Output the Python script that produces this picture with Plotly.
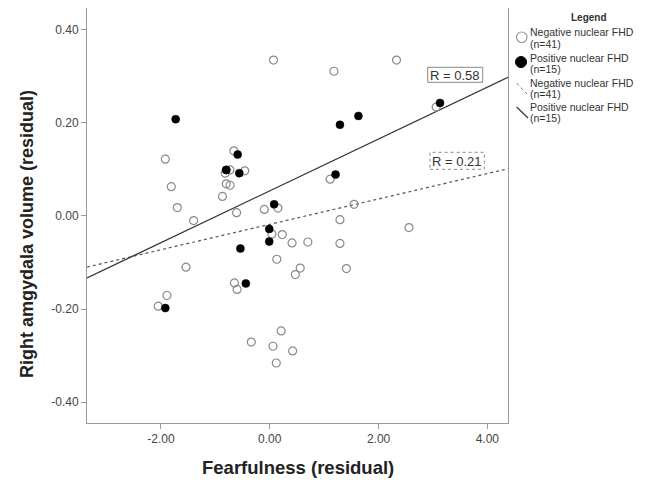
import plotly.graph_objects as go

# Negative nuclear FHD (n=41), open circles
neg_x = [0.07, -0.66, -1.92, -0.73, -0.82, -0.46, -0.80, -0.73, -1.81, -0.87,
         -1.70, 0.15, -0.10, -0.61, -1.40, 0.04, 0.23, 0.41, 0.70, 0.13,
         -1.54, 0.56, 0.47, -0.65, -0.60, -1.89, -2.05, 0.21, -0.34, 0.06,
         0.42, 0.12, 1.18, 2.33, 3.06, 1.11, 1.55, 1.29, 2.56, 1.29, 1.41]
neg_y = [0.335, 0.140, 0.122, 0.099, 0.092, 0.097, 0.069, 0.066, 0.063, 0.042,
         0.018, 0.017, 0.014, 0.007, -0.010, -0.039, -0.040, -0.058, -0.056, -0.093,
         -0.110, -0.112, -0.126, -0.144, -0.158, -0.171, -0.194, -0.247, -0.271, -0.280,
         -0.290, -0.316, 0.311, 0.335, 0.234, 0.079, 0.025, -0.008, -0.025, -0.059, -0.113]

# Positive nuclear FHD (n=15), filled circles
pos_x = [-1.73, -0.59, -0.80, -0.56, 0.08, -0.01, -0.01, -0.54, -0.44, -1.92,
         1.29, 1.63, 3.13, 1.21, -0.80]
pos_y = [0.208, 0.132, 0.099, 0.092, 0.025, -0.028, -0.055, -0.070, -0.145, -0.198,
         0.196, 0.215, 0.243, 0.089, 0.099]

# Fit lines (slope, intercept)
neg_fit = (0.0273, -0.018)
pos_fit = (0.0557, 0.054)
r_labels = ["R = 0.58", "R = 0.21"]

x_range = [-3.36, 4.38]
y_range = [-0.445, 0.447]
x_ticks = [-2, 0, 2, 4]
x_ticklabels = ["-2.00", "0.00", "2.00", "4.00"]
y_ticks = [-0.4, -0.2, 0, 0.2, 0.4]
y_ticklabels = ["-0.40", "-0.20", "0.00", "0.20", "0.40"]

legend_labels = [("Negative nuclear FHD", "(n=41)"), ("Positive nuclear FHD", "(n=15)"),
                 ("Negative nuclear FHD", "(n=41)"), ("Positive nuclear FHD", "(n=15)")]

FONT = "Liberation Sans, Arial, sans-serif"

fig = go.Figure()

fx = x_range
fig.add_trace(go.Scatter(x=fx, y=[neg_fit[0] * v + neg_fit[1] for v in fx], mode="lines",
                         line=dict(color="#555555", width=1.2, dash="dot"), showlegend=False,
                         hoverinfo="skip"))
fig.add_trace(go.Scatter(x=fx, y=[pos_fit[0] * v + pos_fit[1] for v in fx], mode="lines",
                         line=dict(color="#333333", width=1.3), showlegend=False,
                         hoverinfo="skip"))
fig.add_trace(go.Scatter(x=neg_x, y=neg_y, mode="markers",
                         marker=dict(symbol="circle-open", size=8, color="#8a8a8a",
                                     line=dict(width=1.2, color="#8a8a8a")),
                         showlegend=False))
fig.add_trace(go.Scatter(x=pos_x, y=pos_y, mode="markers",
                         marker=dict(symbol="circle", size=8, color="#000000",
                                     line=dict(width=0.5, color="#000000")),
                         showlegend=False))

# page body has an 8px margin; figure coordinates are shifted by OFF
OFF = 8
W, H = 642, 472
L, T = 87 - OFF, 0
B = H - (423 - OFF)
R = W - (508 - OFF)
pw = W - L - R
ph = H - T - B


def px(xp):
    return (xp - OFF - L) / pw


def py(yp):
    return (H - B - (yp - OFF)) / ph


shapes = []
annotations = []

# R label boxes
shapes.append(dict(type="rect", xref="paper", yref="paper",
                   x0=px(427.7), x1=px(482.7), y0=py(82.3), y1=py(67.3),
                   line=dict(color="#888888", width=1), fillcolor="white", layer="above"))
shapes.append(dict(type="rect", xref="paper", yref="paper",
                   x0=px(430), x1=px(484.3), y0=py(169.3), y1=py(152.3),
                   line=dict(color="#888888", width=1, dash="dot"), fillcolor="white", layer="above"))
annotations.append(dict(xref="paper", yref="paper", x=px(455.2), y=py(75), text=r_labels[0],
                        showarrow=False, font=dict(family=FONT, size=13, color="#333333"),
                        xanchor="center", yanchor="middle"))
annotations.append(dict(xref="paper", yref="paper", x=px(457.2), y=py(161), text=r_labels[1],
                        showarrow=False, font=dict(family=FONT, size=13, color="#333333"),
                        xanchor="center", yanchor="middle"))

# Axis titles
annotations.append(dict(xref="paper", yref="paper", x=px(298), y=py(467),
                        text="<b>Fearfulness (residual)</b>", showarrow=False,
                        font=dict(family=FONT, size=18.5, color="#222222"),
                        xanchor="center", yanchor="middle"))
annotations.append(dict(xref="paper", yref="paper", x=px(27), y=py(234),
                        text="<b>Right amgydala volume (residual)</b>", showarrow=False,
                        textangle=-90,
                        font=dict(family=FONT, size=18, color="#222222"),
                        xanchor="center", yanchor="middle"))

# Legend (drawn manually)
annotations.append(dict(xref="paper", yref="paper", x=px(589), y=py(17), text="<b>Legend</b>",
                        showarrow=False, font=dict(family=FONT, size=10, color="#333333"),
                        xanchor="center", yanchor="middle"))
shapes.append(dict(type="circle", xref="paper", yref="paper",
                   x0=px(516.5), x1=px(527), y0=py(42.5), y1=py(32),
                   line=dict(color="#999999", width=1.2), fillcolor="white"))
shapes.append(dict(type="circle", xref="paper", yref="paper",
                   x0=px(515.5), x1=px(526.5), y0=py(67.5), y1=py(56.5),
                   line=dict(color="#000000", width=1), fillcolor="#000000"))
shapes.append(dict(type="line", xref="paper", yref="paper",
                   x0=px(516.7), x1=px(528), y0=py(83.3), y1=py(95),
                   line=dict(color="#777777", width=1, dash="dot")))
shapes.append(dict(type="line", xref="paper", yref="paper",
                   x0=px(516.7), x1=px(528), y0=py(107), y1=py(118),
                   line=dict(color="#333333", width=1.2)))
line_centers = [(32, 43.8), (57.5, 69.3), (82.5, 94.3), (106.5, 118.3)]
for (l1, l2), (y1, y2) in zip(legend_labels, line_centers):
    annotations.append(dict(xref="paper", yref="paper", x=px(529), y=py(y1), text=l1,
                            showarrow=False, font=dict(family=FONT, size=10.5, color="#333333"),
                            xanchor="left", yanchor="middle", borderpad=0))
    annotations.append(dict(xref="paper", yref="paper", x=px(529), y=py(y2), text=l2,
                            showarrow=False, font=dict(family=FONT, size=10.5, color="#333333"),
                            xanchor="left", yanchor="middle", borderpad=0))

axis_common = dict(showgrid=False, zeroline=False, showline=True, linecolor="#999999",
                   linewidth=1, mirror=True, ticks="outside", ticklen=5, tickcolor="#999999",
                   tickfont=dict(family=FONT, size=12, color="#444444"))

fig.update_layout(
    width=W, height=H,
    margin=dict(l=L, r=R, t=T, b=B),
    paper_bgcolor="white", plot_bgcolor="white",
    xaxis=dict(range=x_range, tickvals=x_ticks, ticktext=x_ticklabels, **axis_common),
    yaxis=dict(range=y_range, tickvals=y_ticks, ticktext=y_ticklabels, **axis_common),
    shapes=shapes, annotations=annotations, showlegend=False,
)

fig.write_html("out.html")
